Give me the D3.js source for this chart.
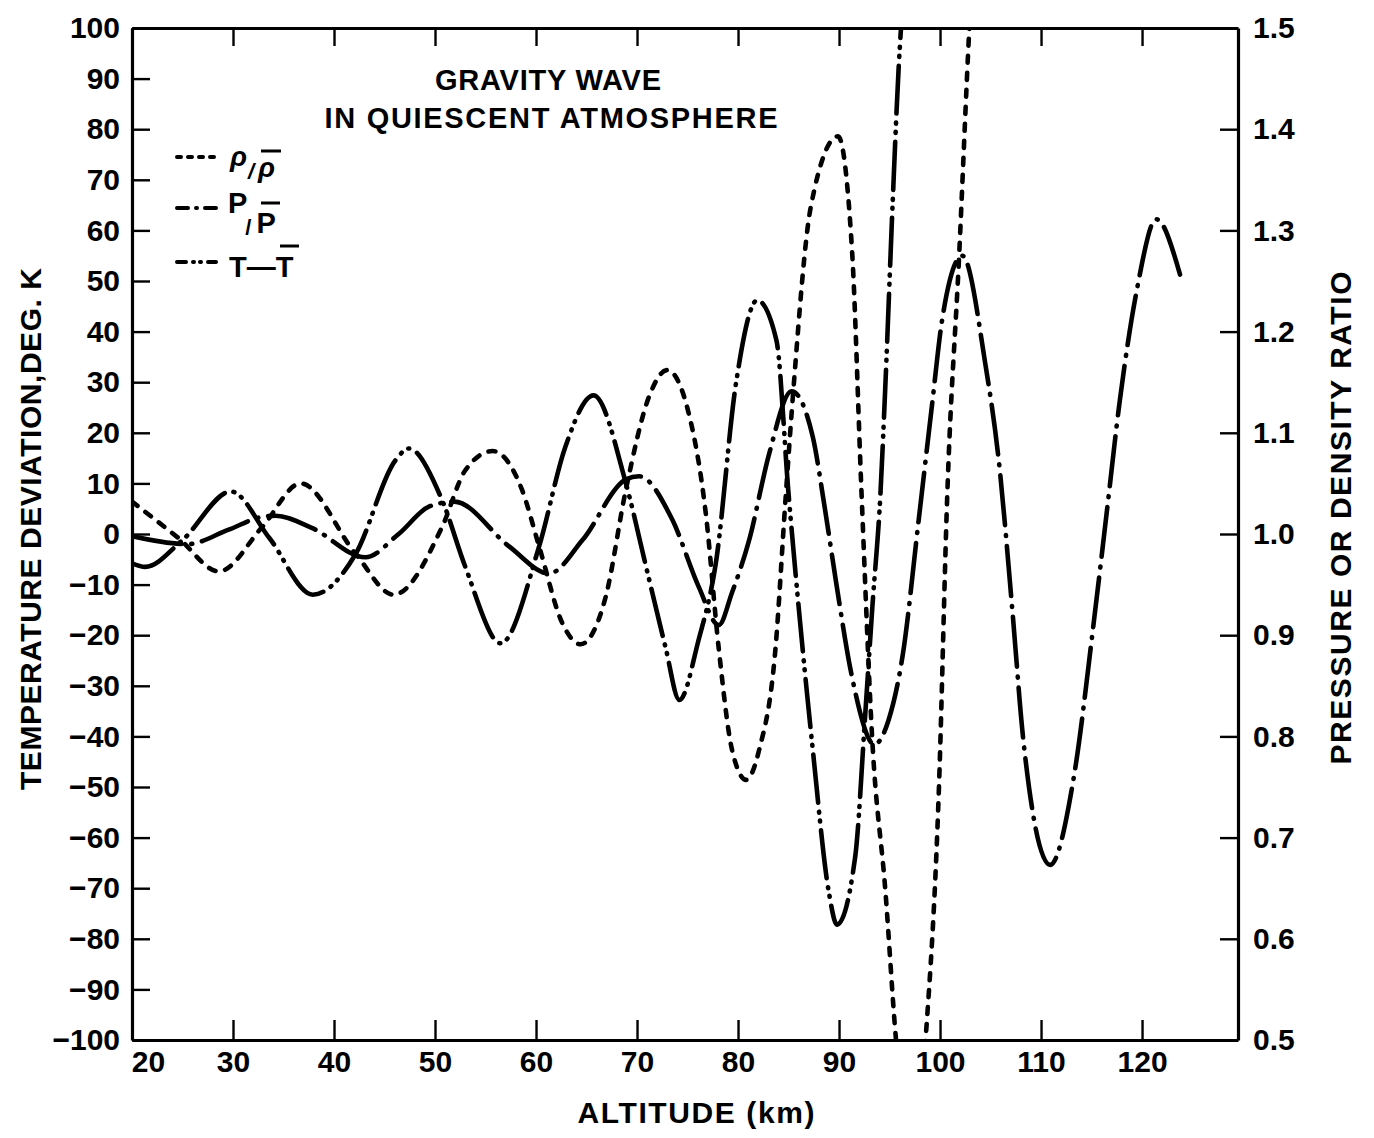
<!DOCTYPE html>
<html>
<head>
<meta charset="utf-8">
<script src="https://cdn.jsdelivr.net/npm/d3@7"></script>
<style>
  body { margin: 0; background: #fff; }
  svg text { font-family: "Liberation Sans", Arial, sans-serif; font-weight: bold; fill: #000; }
</style>
</head>
<body>
<svg id="chart" width="1374" height="1138"></svg>
<script>
// ---- Temperature deviation T − T̄ (K) versus altitude (km)
const tempAlt = [20, 21.3, 25, 29.8, 33.6, 37.9, 42.1, 46.1, 47.4, 50.7, 53, 56.5, 60.3, 62.9, 65.7, 68.9, 70.9, 72.8, 74.2, 76.1, 77.8, 79.8, 81.9, 83.8, 85, 86, 87.4, 89, 89.8, 91.6, 92.6, 93.3, 94.1, 94.6, 95.3, 95.9, 96.6, 97.7];
const tempDev = [-5.8, -6.5, -1.2, 8.4, -0.8, -12, -4.1, 14.6, 16.9, 6.7, -6.5, -21.6, -2.5, 17.2, 27.4, 10, -6.5, -22.2, -32.8, -20.9, -5.8, 29.8, 46.2, 38.3, 8, -14.4, -42.6, -70.9, -77.2, -63.8, -35.5, -14.4, 8, 30, 65, 92, 112, 125];

// ---- Density ratio ρ/ρ̄
const densAlt = [20, 24.6, 28.6, 32.9, 36.7, 42.1, 45.9, 50.7, 53, 55.7, 58.6, 60.3, 62.6, 64.4, 66.9, 68.9, 71.2, 73, 75.1, 76.8, 78.1, 79.4, 80.8, 82.1, 83.7, 84.7, 85.5, 87.2, 89.9, 91.3, 92.2, 93.3, 94.6, 95.6, 97.1, 98.6, 99.9, 100.7, 101.9, 102.9, 103.6];
const densRatio = [1.032, 0.996, 0.963, 1.007, 1.050, 0.981, 0.940, 1.007, 1.063, 1.082, 1.044, 0.988, 0.912, 0.891, 0.938, 1.044, 1.136, 1.162, 1.120, 1.021, 0.886, 0.787, 0.757, 0.787, 0.886, 1.034, 1.145, 1.323, 1.393, 1.278, 1.047, 0.795, 0.646, 0.505, 0.375, 0.505, 0.752, 1.034, 1.277, 1.500, 1.625];

// ---- Pressure ratio P/P̄
const presAlt = [20, 25.5, 29.5, 32.9, 34.2, 37.8, 43.1, 46.4, 49.4, 51.9, 57.3, 61.3, 64.6, 68.9, 70.2, 73.5, 76.1, 78.1, 79.4, 81.1, 83.1, 85.3, 87.4, 88.6, 89.7, 91.3, 93.5, 94.9, 96.3, 97.9, 99.2, 100.2, 102.2, 104.5, 105.8, 107.2, 108.2, 110.9, 113.2, 115.2, 116.5, 117.8, 119.5, 121.4, 123.8];
const presRatio = [0.998, 0.990, 1.004, 1.017, 1.018, 1.006, 0.977, 1.000, 1.027, 1.032, 0.988, 0.961, 0.994, 1.054, 1.057, 1.014, 0.948, 0.910, 0.942, 0.994, 1.080, 1.141, 1.096, 1.025, 0.953, 0.858, 0.792, 0.816, 0.880, 1.015, 1.127, 1.211, 1.275, 1.167, 1.074, 0.920, 0.801, 0.673, 0.757, 0.911, 1.021, 1.132, 1.242, 1.311, 1.255];

// ---- Axis ticks
const altTicks = [20, 30, 40, 50, 60, 70, 80, 90, 100, 110, 120];
const tempTicks = [-100, -90, -80, -70, -60, -50, -40, -30, -20, -10, 0, 10, 20, 30, 40, 50, 60, 70, 80, 90, 100];
const ratioTicks = [0.5, 0.6, 0.7, 0.8, 0.9, 1.0, 1.1, 1.2, 1.3, 1.4, 1.5];

const titleLines = ["GRAVITY WAVE", "IN QUIESCENT ATMOSPHERE"];

const svg = d3.select("#chart");
svg.append("rect").attr("width", 1374).attr("height", 1138).attr("fill", "#fff");

const L = 132, R = 1238, T = 28, B = 1040;
const x = d3.scaleLinear().domain([20, 129.5]).range([L, R]);
const yT = d3.scaleLinear().domain([-100, 100]).range([B, T]);
const yR = d3.scaleLinear().domain([0.5, 1.5]).range([B, T]);

const signed = d => d < 0 ? "\u2212" + Math.abs(d) : String(d);

function styleAxis(g) {
  g.attr("font-family", null).attr("font-size", null);
  g.select(".domain").attr("stroke", "#000").attr("stroke-width", 3.2);
  g.selectAll(".tick line").attr("stroke", "#000").attr("stroke-width", 2.4);
  g.selectAll(".tick text").style("font-size", "30px");
}

// bottom axis
const gx = svg.append("g").attr("transform", `translate(0,${B})`)
  .call(d3.axisBottom(x).tickValues(altTicks).tickSizeInner(-20).tickSizeOuter(0).tickPadding(11))
  .call(styleAxis);
gx.selectAll(".tick").filter(d => d === 20).select("text").attr("dx", 16);

// top edge with ticks
svg.append("g").attr("transform", `translate(0,${T})`)
  .call(d3.axisTop(x).tickValues(altTicks).tickSizeInner(-18).tickSizeOuter(0).tickFormat(""))
  .call(styleAxis);

// left axis: temperature deviation
svg.append("g").attr("transform", `translate(${L},0)`)
  .call(d3.axisLeft(yT).tickValues(tempTicks).tickSizeInner(-18).tickSizeOuter(0).tickPadding(12).tickFormat(signed))
  .call(styleAxis);

// right axis: pressure or density ratio
svg.append("g").attr("transform", `translate(${R},0)`)
  .call(d3.axisRight(yR).tickValues(ratioTicks).tickSizeInner(-18).tickSizeOuter(0).tickPadding(15).tickFormat(d3.format(".1f")))
  .call(styleAxis);

// axis titles
svg.append("text").attr("x", 696).attr("y", 1123).attr("text-anchor", "middle")
  .style("font-size", "30px").attr("textLength", 237).attr("lengthAdjust", "spacing")
  .text("ALTITUDE (km)");
svg.append("text").attr("transform", "translate(41,529) rotate(-90)").attr("text-anchor", "middle")
  .style("font-size", "30px").attr("textLength", 522).attr("lengthAdjust", "spacing")
  .text("TEMPERATURE DEVIATION,DEG. K");
svg.append("text").attr("transform", "translate(1351,518) rotate(-90)").attr("text-anchor", "middle")
  .style("font-size", "30px").attr("textLength", 493).attr("lengthAdjust", "spacing")
  .text("PRESSURE OR DENSITY RATIO");

// chart title
svg.append("text").attr("x", 548).attr("y", 90).attr("text-anchor", "middle")
  .style("font-size", "29px").attr("textLength", 226).attr("lengthAdjust", "spacing").text(titleLines[0]);
svg.append("text").attr("x", 551).attr("y", 128).attr("text-anchor", "middle")
  .style("font-size", "29px").attr("textLength", 453).attr("lengthAdjust", "spacing").text(titleLines[1]);

// curves
const styles = {
  dens: "7,10",
  pres: "50,10,1,10",
  temp: "48,9,1,8,1,9"
};
svg.append("clipPath").attr("id", "plotArea")
  .append("rect").attr("x", L).attr("y", T).attr("width", R - L).attr("height", B - T);

const plot = svg.append("g").attr("clip-path", "url(#plotArea)");
const zip = (a, b) => a.map((v, i) => [v, b[i]]);

const lineT = d3.line().x(d => x(d[0])).y(d => yT(d[1])).curve(d3.curveMonotoneX);
const lineR = d3.line().x(d => x(d[0])).y(d => yR(d[1])).curve(d3.curveMonotoneX);

function drawCurve(path, dash) {
  plot.append("path").attr("d", path).attr("fill", "none").attr("stroke", "#000")
    .attr("stroke-width", 4.6).attr("stroke-linecap", "round").attr("stroke-linejoin", "round")
    .attr("stroke-dasharray", dash);
}
drawCurve(lineR(zip(densAlt, densRatio)), styles.dens);
drawCurve(lineR(zip(presAlt, presRatio)), styles.pres);
drawCurve(lineT(zip(tempAlt, tempDev)), styles.temp);

// legend
const legend = svg.append("g");
const legendRows = [
  { y: 157, dash: "4,7" },
  { y: 208, dash: "11,8,1,8,16" },
  { y: 262, dash: "9,7,1,6,1,7,14" }
];
legendRows.forEach(r => {
  legend.append("line").attr("x1", 177).attr("x2", 216).attr("y1", r.y).attr("y2", r.y)
    .attr("stroke", "#000").attr("stroke-width", 4).attr("stroke-linecap", "round")
    .attr("stroke-dasharray", r.dash);
});

// ρ/ρ̄
const rho = legend.append("text").attr("x", 230).attr("y", 166).style("font-size", "28px").style("font-style", "italic");
rho.append("tspan").text("ρ");
rho.append("tspan").attr("dx", 1).attr("dy", 13).style("font-size", "22px").text("/");
rho.append("tspan").attr("dx", 4).attr("dy", -2).text("ρ");
legend.append("line").attr("x1", 261).attr("x2", 281).attr("y1", 151).attr("y2", 151).attr("stroke", "#000").attr("stroke-width", 3);

// P/P̄
const pp = legend.append("text").attr("x", 228).attr("y", 213).style("font-size", "29px");
pp.append("tspan").text("P");
pp.append("tspan").attr("dx", -2).attr("dy", 22).style("font-size", "22px").text("/");
pp.append("tspan").attr("dx", 5).attr("dy", -2).text("P");
legend.append("line").attr("x1", 261).attr("x2", 280).attr("y1", 203).attr("y2", 203).attr("stroke", "#000").attr("stroke-width", 3);

// T − T̄
const tt = legend.append("text").attr("x", 229).attr("y", 277).style("font-size", "29px");
tt.append("tspan").text("T");
tt.append("tspan").text("\u2014");
tt.append("tspan").text("T");
legend.append("line").attr("x1", 280).attr("x2", 299).attr("y1", 246).attr("y2", 246).attr("stroke", "#000").attr("stroke-width", 3);
</script>
</body>
</html>
